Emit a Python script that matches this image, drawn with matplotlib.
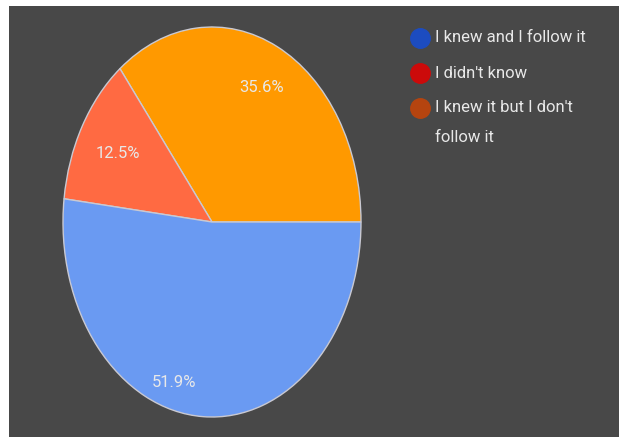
import matplotlib
matplotlib.use("Agg")
import matplotlib.pyplot as plt
import matplotlib.patches as mpatches
from matplotlib.lines import Line2D
import numpy as np

# data
labels = ["I knew and I follow it", "I didn't know", "I knew it but I don't\nfollow it"]
values = [51.9, 12.5, 35.6]

# pie drawn counter-clockwise from 3 o'clock: orange, red, blue
pie_order = [2, 1, 0]
pie_colors = ["#ff9900", "#ff6a42", "#6a9af2"]
legend_colors = ["#1c4cc0", "#cc0a0a", "#b5440f"]

bg_color = "#484848"
text_color = "#e8e8e8"
font = ["Roboto", "DejaVu Sans"]

W, H = 619, 437
fig = plt.figure(figsize=(W / 100, H / 100), dpi=100, facecolor="white")

# dark panel
fig.add_artist(mpatches.Rectangle((9 / W, 0), 610 / W, 431 / H, transform=fig.transFigure,
                                  facecolor=bg_color, edgecolor="none", zorder=0))

# pie axes (stretched to an ellipse)
ax = fig.add_axes([63 / W, 20 / H, 298 / W, 390 / H])
ax.set_facecolor("none")
wedges, texts, autotexts = ax.pie([values[i] for i in pie_order], colors=pie_colors,
                                  startangle=0, counterclock=True, autopct="%.1f%%",
                                  pctdistance=0.76,
                                  wedgeprops=dict(edgecolor="#c9c9d2", linewidth=1.0),
                                  textprops=dict(color=text_color, fontsize=12, family=font))
ax.set_aspect("auto")
ax.set_xlim(-1.0, 1.0)
ax.set_ylim(-1.0, 1.0)
ax.axis("off")

# label placement (radius fraction, angle deg) like the source chart
label_pos = [(0.765, 64), (0.72, 151), (0.86, 253)]
for t, (r, a) in zip(autotexts, label_pos):
    t.set_position((r * np.cos(np.radians(a)), r * np.sin(np.radians(a))))

# legend, drawn by hand so the dot sits on the first line of each entry
mark_x, text_x, top_y = 420, 435, 38
entry_gap, line_gap = 35, 30
y = top_y
for lab, col in zip(labels, legend_colors):
    fig.add_artist(Line2D([mark_x / W], [1 - y / H], transform=fig.transFigure,
                          marker="o", markersize=14, linestyle="none",
                          markerfacecolor=col, markeredgecolor=col))
    for k, line in enumerate(lab.split("\n")):
        fig.text(text_x / W, 1 - (y + k * line_gap) / H, line, color=text_color,
                 fontsize=12, family=font, ha="left", va="center")
    y += entry_gap

fig.savefig("out.png", dpi=100, facecolor="white")
